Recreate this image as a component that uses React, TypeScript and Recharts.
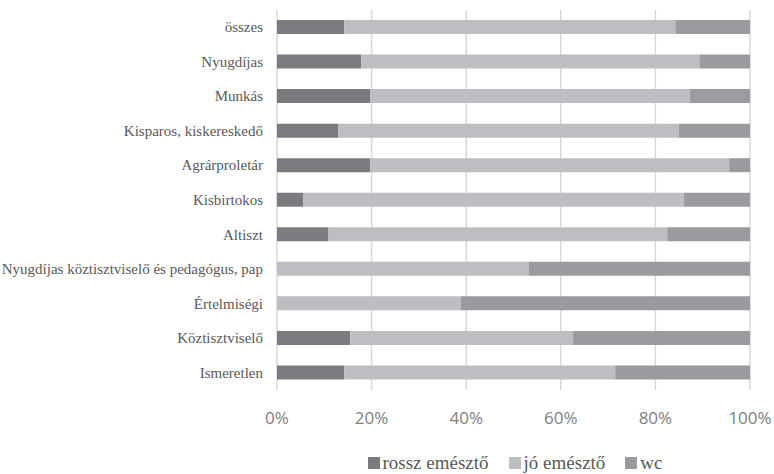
import { BarChart, Bar, XAxis, YAxis, CartesianGrid, Legend } from "recharts";

const categories = [
  "összes",
  "Nyugdíjas",
  "Munkás",
  "Kisparos, kiskereskedő",
  "Agrárproletár",
  "Kisbirtokos",
  "Altiszt",
  "Nyugdíjas köztisztviselő és pedagógus, pap",
  "Értelmiségi",
  "Köztisztviselő",
  "Ismeretlen",
];
const rossz = [14.2, 17.8, 19.7, 13.0, 19.7, 5.6, 10.9, 0, 0, 15.5, 14.2];
const jo = [70.0, 71.5, 67.6, 71.9, 75.9, 80.4, 71.6, 53.2, 38.9, 47.1, 57.3];
const wc = [15.8, 10.7, 12.7, 15.1, 4.4, 14.0, 17.5, 46.8, 61.1, 37.4, 28.5];
const ticks = [0, 0.2, 0.4, 0.6, 0.8, 1];

const series = [
  { key: "rossz", name: "rossz emésztő", color: "#7b7b7f" },
  { key: "jo", name: "jó emésztő", color: "#bdbec1" },
  { key: "wc", name: "wc", color: "#9b9b9f" },
];

const data = categories.map((name, i) => ({
  name,
  rossz: rossz[i],
  jo: jo[i],
  wc: wc[i],
}));

const serif = "Liberation Serif, DejaVu Serif, serif";

// plain tick so the long label stays on one line
const CategoryTick = ({ x, y, payload }: any) => (
  <text x={x} y={y} dy={5} textAnchor="end" fontFamily={serif} fontSize={15} fill="#595959">
    {payload.value}
  </text>
);

const LegendContent = () => (
  <div style={{ display: "flex", justifyContent: "center", alignItems: "center", height: 22, paddingLeft: 280 }}>
    {series.map((s, i) => (
      <div key={s.key} style={{ display: "flex", alignItems: "center", marginLeft: i ? 20 : 0 }}>
        <span style={{ width: 12, height: 12, background: s.color, display: "inline-block", marginRight: 3 }} />
        <span style={{ fontFamily: serif, fontSize: 19, color: "#595959" }}>{s.name}</span>
      </div>
    ))}
  </div>
);

export default function App() {
  return (
    <div style={{ position: "absolute", left: 0, top: 0, background: "#fff" }}>
      <BarChart
        width={774}
        height={474}
        data={data}
        layout="vertical"
        stackOffset="expand"
        margin={{ top: 10, right: 24, bottom: 0, left: 0 }}
      >
        <CartesianGrid horizontal={false} stroke="#d9d9d9" strokeWidth={1.5} />
        <XAxis
          type="number"
          domain={[0, 1]}
          ticks={ticks}
          tickFormatter={(v) => `${Math.round(v * 100)}%`}
          axisLine={false}
          tickLine={false}
          tickMargin={16}
          height={62}
          tick={{ fontFamily: "Open Sans, sans-serif", fontSize: 17, fill: "#808080" }}
        />
        <YAxis
          type="category"
          dataKey="name"
          width={277}
          interval={0}
          axisLine={false}
          tickLine={false}
          tickMargin={8}
          tick={<CategoryTick />}
        />
        {series.map((s) => (
          <Bar
            key={s.key}
            dataKey={s.key}
            name={s.name}
            stackId="a"
            fill={s.color}
            barSize={14}
            isAnimationActive={false}
          />
        ))}
        <Legend verticalAlign="bottom" height={22} content={<LegendContent />} />
      </BarChart>
    </div>
  );
}
